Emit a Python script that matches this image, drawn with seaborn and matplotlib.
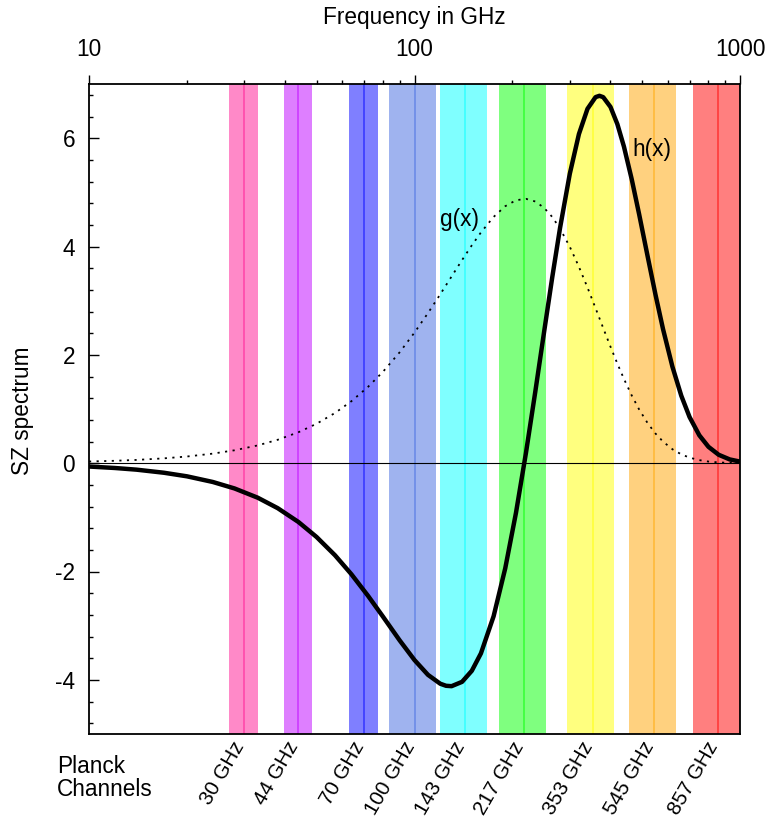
import matplotlib
matplotlib.use("Agg")
import matplotlib.pyplot as plt
import matplotlib.transforms as mtransforms
from matplotlib.ticker import FixedLocator, LogLocator, NullFormatter, MultipleLocator, FixedFormatter
import pandas as pd
import seaborn as sns

# Thermal SZ spectral shapes tabulated against observing frequency (GHz)
freq_ghz = [10, 12, 14, 17, 20, 24, 28, 33, 38, 44, 50, 57, 64, 72, 80, 90,
            100, 110, 120, 125, 130, 140, 150, 160, 175, 190, 205, 220, 235,
            250, 265, 280, 300, 320, 340, 360, 370, 380, 400, 420, 440, 465,
            490, 520, 550, 580, 620, 660, 700, 750, 800, 860, 930, 1000]
g_vals = [0.031, 0.044, 0.060, 0.089, 0.123, 0.176, 0.238, 0.328, 0.432,
          0.571, 0.727, 0.927, 1.144, 1.409, 1.687, 2.046, 2.411, 2.771,
          3.118, 3.286, 3.447, 3.750, 4.022, 4.260, 4.546, 4.744, 4.854,
          4.880, 4.831, 4.715, 4.545, 4.330, 3.995, 3.625, 3.242, 2.860,
          2.675, 2.494, 2.151, 1.838, 1.556, 1.249, 0.991, 0.741, 0.547,
          0.399, 0.257, 0.163, 0.102, 0.056, 0.030, 0.014, 0.0055, 0.0022]
h_vals = [-0.062, -0.089, -0.120, -0.177, -0.243, -0.347, -0.467, -0.638,
          -0.831, -1.086, -1.362, -1.701, -2.051, -2.450, -2.833, -3.270,
          -3.635, -3.908, -4.072, -4.110, -4.117, -4.037, -3.833, -3.511,
          -2.826, -1.942, -0.917, 0.190, 1.318, 2.415, 3.434, 4.343, 5.343,
          6.076, 6.542, 6.758, 6.782, 6.757, 6.577, 6.259, 5.844, 5.239,
          4.593, 3.825, 3.111, 2.478, 1.781, 1.246, 0.851, 0.514, 0.302,
          0.155, 0.069, 0.029]

# Planck frequency channels and their fractional half bandwidths
planck_channels = [30, 44, 70, 100, 143, 217, 353, 545, 857]
band_half_width = [0.10, 0.10, 0.10, 0.165, 0.165, 0.165, 0.165, 0.165, 0.165]
channel_colors = ["#ff1493", "#bf00ff", "#0000ff", "#4169e1", "#00ffff",
                  "#00ff00", "#ffff00", "#ffa500", "#ff0000"]
channel_labels = ["30 GHz", "44 GHz", "70 GHz", "100 GHz", "143 GHz",
                  "217 GHz", "353 GHz", "545 GHz", "857 GHz"]

x_ticks = [10, 100, 1000]
x_tick_labels = ["10", "100", "1000"]
y_ticks = [-4, -2, 0, 2, 4, 6]

sns.set_theme(style="ticks")
plt.rcParams["font.family"] = ["Liberation Sans", "DejaVu Sans"]
plt.rcParams["axes.unicode_minus"] = False
for key in ("text.color", "axes.labelcolor", "xtick.color", "ytick.color",
            "axes.edgecolor"):
    plt.rcParams[key] = "black"

FS = 16.3

W, H = 769, 819
fig = plt.figure(figsize=(W / 100, H / 100), dpi=100)
ax = fig.add_axes([89 / W, 1 - 734 / H, 651 / W, 650 / H])
ax.set_xscale("log")

df = pd.DataFrame({"freq": freq_ghz, "g": g_vals, "h": h_vals})

# channel bands with a marker at each nominal frequency
for c, hw, col in zip(planck_channels, band_half_width, channel_colors):
    ax.axvspan(c * (1 - hw), c * (1 + hw), color=col, alpha=0.5, lw=0, zorder=0)
    ax.axvline(c, color=col, alpha=0.5, lw=1.3, zorder=0.5)

ax.axhline(0, color="black", lw=0.8, zorder=1)

sns.lineplot(data=df, x="freq", y="g", ax=ax, color="black", lw=1.3,
             linestyle=(0, (1.2, 3.0)), zorder=2)
sns.lineplot(data=df, x="freq", y="h", ax=ax, color="black", lw=3.2, zorder=3)

ax.set_xlim(10, 1000)
ax.set_ylim(-5, 7)

# frequency axis on top
ax.xaxis.set_major_locator(FixedLocator(x_ticks))
ax.xaxis.set_major_formatter(FixedFormatter(x_tick_labels))
ax.xaxis.set_minor_locator(LogLocator(base=10, subs=[2, 3, 4, 5, 6, 7, 8, 9]))
ax.xaxis.set_minor_formatter(NullFormatter())
ax.tick_params(axis="x", which="both", direction="out", top=True, bottom=False,
               labeltop=True, labelbottom=False, width=1.0, color="black")
ax.tick_params(axis="x", which="major", length=6.5, pad=10, labelsize=FS)
ax.tick_params(axis="x", which="minor", length=3)
ax.set_xlabel("Frequency in GHz", fontsize=FS, labelpad=10)
ax.xaxis.set_label_position("top")

ax.yaxis.set_major_locator(FixedLocator(y_ticks))
ax.yaxis.set_minor_locator(MultipleLocator(0.4))
ax.tick_params(axis="y", which="both", direction="in", left=True, right=False,
               width=1.0, color="black")
ax.tick_params(axis="y", which="major", length=7, pad=10, labelsize=FS)
ax.tick_params(axis="y", which="minor", length=3)
ax.set_ylabel("")

for s in ax.spines.values():
    s.set_visible(True)
    s.set_linewidth(1.3)
    s.set_color("black")

ax.text(137, 4.49, "g(x)", fontsize=FS, ha="center", va="center", zorder=4)
ax.text(536, 5.8, "h(x)", fontsize=FS, ha="center", va="center", zorder=4)

# channel names under the frame
trans = mtransforms.blended_transform_factory(ax.transData, ax.transAxes)
for c, lab in zip(planck_channels, channel_labels):
    ax.annotate(lab, xy=(c, 0), xycoords=trans, xytext=(3, -3),
                textcoords="offset points", rotation=60, ha="right", va="top",
                fontsize=14.8, annotation_clip=False)

fig.text(57 / W, 1 - 755 / H, "Planck\nChannels", fontsize=FS, ha="left",
         va="top", linespacing=1.0)
fig.text(23 / W, 1 - 411 / H, "SZ spectrum", fontsize=FS, rotation=90,
         ha="center", va="center")

fig.savefig("out.png", dpi=100)
